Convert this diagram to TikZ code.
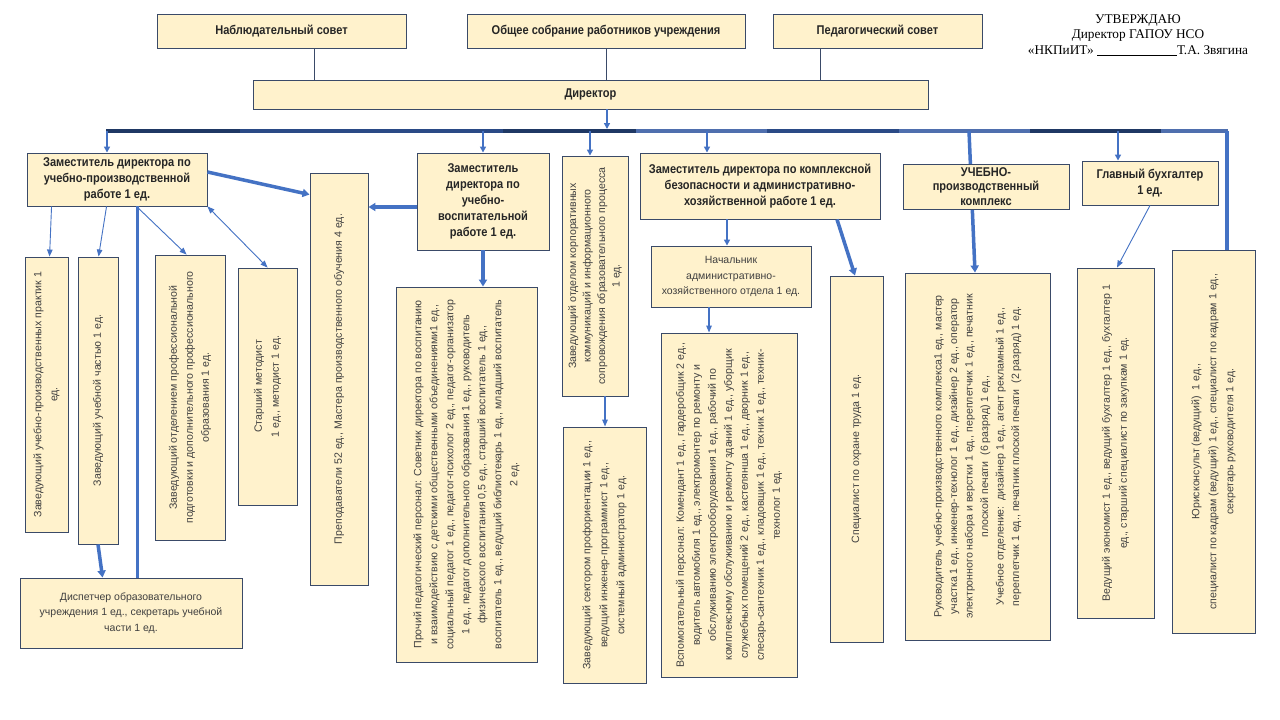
\documentclass[tikz,border=0pt]{standalone}
\usepackage{fontspec}
\setmainfont{Liberation Sans}
\newfontfamily\hdr[FakeStretch=0.87]{Liberation Sans}
\newfontfamily\serifm{Liberation Serif}
\usetikzlibrary{arrows.meta,calc}
\definecolor{boxfill}{HTML}{FFF2CC}
\definecolor{boxline}{HTML}{3A4A68}
\definecolor{arrblue}{HTML}{4472C4}
\definecolor{busdark}{HTML}{1F3864}
\definecolor{busmid}{HTML}{2A4A86}
\definecolor{buslight}{HTML}{4F6FAE}
\definecolor{txt}{HTML}{404040}
\tikzset{
 box/.style={draw=boxline, fill=boxfill, line width=0.9pt, inner sep=0pt},
 hbox/.style={box, align=center, text=black!85},
 hfont/.style={font=\hdr\bfseries\fontsize{12.7}{16}\selectfont},
 nfont/.style={font=\fontsize{10.5}{15.5}\selectfont, text=txt},
 vtext/.style={rotate=90, align=center, text=txt, font=\fontsize{10.6}{16}\selectfont, inner sep=0pt},
 thinarr/.style={draw=arrblue, line width=0.9pt, -{Triangle[length=7pt,width=5.5pt]}},
 midarr/.style={draw=arrblue, line width=2pt, -{Triangle[length=6pt,width=6pt]}},
 thickarr/.style={draw=arrblue, line width=3.5pt, -{Triangle[length=7pt,width=8pt]}},
 thickline/.style={draw=arrblue, line width=3.5pt},
 topline/.style={draw=boxline, line width=1pt},
 busseg/.style={line width=4pt},
}
\begin{document}
\begin{tikzpicture}[x=1pt,y=-1pt]
\useasboundingbox[fill=white] (0,0) rectangle (1280,720);

% approval
\node[font=\serifm\fontsize{13.3}{15.5}\selectfont, align=center] (appr) at (1138,35)
 {УТВЕРЖДАЮ\\Директор ГАПОУ НСО\\«НКПиИТ» \rule[-1.8pt]{80pt}{0.7pt}Т.А. Звягина};

% top boxes
\node[hbox,hfont,minimum width=249pt,minimum height=34pt] (nabl) at (281.5,31) {Наблюдательный совет};
\node[hbox,hfont,minimum width=278pt,minimum height=34pt] (obsh) at (606,31) {Общее собрание работников учреждения};
\node[hbox,hfont,minimum width=209pt,minimum height=34pt] (ped) at (877.5,31) {Педагогический совет};
\node[hbox,hfont,minimum width=675pt,minimum height=29pt] (dir) at (590.5,94.5) {Директор};

\draw[topline] ([xshift=32.5pt]nabl.south) coordinate (t1) -- (t1 |- dir.north);
\draw[topline] (obsh.south) -- (obsh.south |- dir.north);
\draw[topline] ([xshift=-57.5pt]ped.south) coordinate (t3) -- (t3 |- dir.north);

% bus
\coordinate (b0) at (107,131);
\coordinate (b1) at (240,131);
\coordinate (b2) at (372,131);
\coordinate (b3) at (503,131);
\coordinate (b4) at (636,131);
\coordinate (b5) at (767,131);
\coordinate (b6) at (899,131);
\coordinate (b7) at (1030,131);
\coordinate (b8) at (1161,131);
\coordinate (b9) at (1227,131);
\draw[busseg,busdark] ([xshift=-1pt]b0) -- (b1);
\draw[busseg,busmid] (b1) -- (b2);
\draw[busseg,busmid] (b2) -- (b3);
\draw[busseg,busdark] (b3) -- (b4);
\draw[busseg,buslight] (b4) -- (b5);
\draw[busseg,busmid] (b5) -- (b6);
\draw[busseg,buslight] (b6) -- (b7);
\draw[busseg,busdark] (b7) -- (b8);
\draw[busseg,buslight] (b8) -- ([xshift=1pt]b9);

\draw[midarr] ([xshift=16.5pt]dir.south) coordinate (d1) -- ([yshift=2pt]d1 |- b0);

% second row headers
\node[hbox,hfont,minimum width=180pt,minimum height=53pt] (zupr) at (117,179.5)
 {Заместитель директора по\\учебно-производственной\\работе 1 ед.};
\node[hbox,hfont,minimum width=132pt,minimum height=97pt] (zuvr) at (483,201.5)
 {Заместитель\\директора по\\учебно-\\воспитательной\\работе 1 ед.};
\node[box,minimum width=66pt,minimum height=240pt] (zotd) at (595,276) {};
\node[vtext,font=\fontsize{10.6}{14.5}\selectfont] (zotdT) at (zotd)
 {Заведующий отделом корпоративных\\коммуникаций и информационного\\сопровождения образовательного процесса\\1 ед.};
\node[hbox,hfont,minimum width=240pt,minimum height=66pt] (zkb) at (760,186)
 {Заместитель директора по комплексной\\безопасности и административно-\\хозяйственной работе 1 ед.};

% UPK line passes behind the box
\coordinate (u0) at (969,131);
\node[box,minimum width=145pt,minimum height=367pt] (ruk) at (977.5,456.5) {};
\draw[thickarr] (u0) -- ([xshift=-2.5pt]ruk.north);
\node[box,minimum width=166pt,minimum height=45pt] (upk) at (986,186.5) {};
\node[align=center,text=black!85,font=\hdr\bfseries\fontsize{12.7}{14.5}\selectfont,inner sep=0pt] (upkT) at (986,186.5)
 {УЧЕБНО-\\производственный\\комплекс};
\node[hbox,hfont,minimum width=136pt,minimum height=44pt] (gb) at (1150,183) {Главный бухгалтер\\1 ед.};

% drops from bus
\draw[midarr] (b0) -- (b0 |- zupr.north);
\draw[midarr] (zuvr.north |- b0) -- (zuvr.north);
\draw[midarr] ([xshift=-5pt]zotd.north |- b0) -- ([xshift=-5pt]zotd.north);
\draw[midarr] ([xshift=-53pt]zkb.north |- b0) -- ([xshift=-53pt]zkb.north);
\draw[midarr] ([xshift=-32pt]gb.north |- b0) -- ([xshift=-32pt]gb.north);

% level 3 left
\node[box,minimum width=43pt,minimum height=275pt] (zup) at (46.5,394.5) {};
\node[vtext] (zupT) at (zup) {Заведующий учебно-производственных практик 1\\ед.};
\node[box,minimum width=40pt,minimum height=287pt] (zuch) at (98,400.5) {};
\node[vtext] (zuchT) at (zuch) {Заведующий учебной частью 1 ед.};
\node[box,minimum width=70pt,minimum height=285pt] (zotpp) at (190,397.5) {};
\node[vtext] (zotppT) at (zotpp) {Заведующий отделением профессиональной\\подготовки и дополнительного профессионального\\образования 1 ед.};
\node[box,minimum width=59pt,minimum height=237pt] (smet) at (267.5,386.5) {};
\node[vtext,font=\fontsize{10.6}{17}\selectfont] (smetT) at (smet) {Старший методист\\1 ед., методист 1 ед.};
\node[box,minimum width=58pt,minimum height=412pt] (prep) at (339,379) {};
\node[vtext] (prepT) at (prep) {Преподаватели 52 ед., Мастера производственного обучения 4 ед.};
\node[box,minimum width=141pt,minimum height=375pt] (proch) at (466.5,474.5) {};
\node[vtext] (prochT) at (proch) {Прочий педагогический персонал: Советник директора по воспитанию\\и взаимодействию с детскими общественными объединениями1 ед.,\\социальный педагог 1 ед., педагог-психолог 2 ед., педагог-организатор\\1 ед., педагог дополнительного образования 1 ед., руководитель\\физического воспитания 0,5 ед., старший воспитатель 1 ед.,\\воспитатель 1 ед., ведущий библиотекарь 1 ед., младший воспитатель\\2 ед.};
\node[hbox,nfont,minimum width=222pt,minimum height=70pt] (disp) at (131,613)
 {Диспетчер образовательного\\учреждения 1 ед., секретарь учебной\\части 1 ед.};

\draw[thinarr] ([xshift=25pt]zupr.south west) -- ([xshift=25pt]zup.north west);
\draw[thinarr] ([xshift=80pt]zupr.south west) -- ([xshift=21pt]zuch.north west);
\draw[thinarr] ([xshift=110pt]zupr.south west) -- ([xshift=32pt]zotpp.north west);
\draw[thinarr,{Triangle[length=7pt,width=5.5pt]}-{Triangle[length=7pt,width=5.5pt]}] (zupr.south east) -- ([xshift=30pt]smet.north west);
\draw[thickline] ([xshift=111pt]zupr.south west) coordinate (z1) -- (z1 |- disp.north);
\draw[thickarr] ([yshift=7.5pt]zupr.east) -- ([yshift=-22pt]prep.north west);
\draw[thickarr] (zuch.south) -- ([xshift=83pt]disp.north west);
\draw[thickarr] ([yshift=-5.5pt]zuvr.west) coordinate (v1) -- (v1 -| prep.east);
\draw[thickarr] (zuvr.south) -- (zuvr.south |- proch.north);

% middle
\node[box,minimum width=83pt,minimum height=256pt] (sekt) at (604.5,555) {};
\node[vtext,font=\fontsize{10.6}{17}\selectfont] (sektT) at (sekt) {Заведующий сектором профориентации 1 ед.,\\ведущий инженер-программист 1 ед.,\\системный администратор 1 ед.};
\draw[thinarr,line width=1.3pt] ([xshift=10pt]zotd.south) coordinate (s1) -- (s1 |- sekt.north);

\node[hbox,nfont,minimum width=160pt,minimum height=61pt] (nach) at (731,276.5)
 {Начальник\\административно-\\хозяйственного отдела 1 ед.};
\draw[midarr] ([xshift=-33pt]zkb.south) coordinate (k1) -- (k1 |- nach.north);
\node[box,minimum width=136pt,minimum height=344pt] (vsp) at (729,505) {};
\node[vtext] (vspT) at (vsp) {Вспомогательный персонал: Комендант 1 ед., гардеробщик 2 ед.,\\водитель автомобиля 1 ед., электромонтер по ремонту и\\обслуживанию электрооборудования 1 ед., рабочий по\\комплексному обслуживанию и ремонту зданий 1 ед., уборщик\\служебных помещений 2 ед., кастелянша 1 ед., дворник 1 ед.,\\слесарь-сантехник 1 ед., кладовщик 1 ед., техник 1 ед., техник-\\технолог 1 ед.};
\draw[thinarr,line width=1.3pt] ([xshift=-22pt]nach.south) coordinate (n1) -- (n1 |- vsp.north);

\node[box,minimum width=53pt,minimum height=366pt] (spec) at (856.5,459) {};
\node[vtext] (specT) at (spec) {Специалист по охране труда 1 ед.};
\draw[thickarr] ([xshift=77pt]zkb.south) -- ([xshift=-1.5pt]spec.north);

\node[vtext,font=\fontsize{10.6}{15.5}\selectfont] (rukT) at (ruk) {Руководитель учебно-производственного комплекса1 ед., мастер\\участка 1 ед., инженер-технолог 1 ед., дизайнер 2 ед., оператор\\электронного набора и верстки 1 ед., переплетчик 1 ед., печатник\\плоской печати\ \ (6 разряд) 1 ед.,\\Учебное отделение:\ \ дизайнер 1 ед., агент рекламный 1 ед.,\\переплетчик 1 ед., печатник плоской печати\ \ (2 разряд) 1 ед.};

% right
\node[box,minimum width=77pt,minimum height=350pt] (ved) at (1115.5,443) {};
\node[vtext,font=\fontsize{10.6}{17}\selectfont] (vedT) at (ved) {Ведущий экономист 1 ед., ведущий бухгалтер 1 ед., бухгалтер 1\\ед., старший специалист по закупкам 1 ед.};
\draw[thinarr] (gb.south) -- ([xshift=1.5pt]ved.north);

\node[box,minimum width=83pt,minimum height=383pt] (yur) at (1213.5,441.5) {};
\node[vtext,font=\fontsize{10.6}{17}\selectfont] (yurT) at (yur) {Юрисконсульт (ведущий)\ \ 1 ед.,\\специалист по кадрам (ведущий) 1 ед., специалист по кадрам 1 ед.,\\секретарь руководителя 1 ед.};
\draw[thickline] (b9) -- (b9 |- yur.north);
\end{tikzpicture}
\end{document}
